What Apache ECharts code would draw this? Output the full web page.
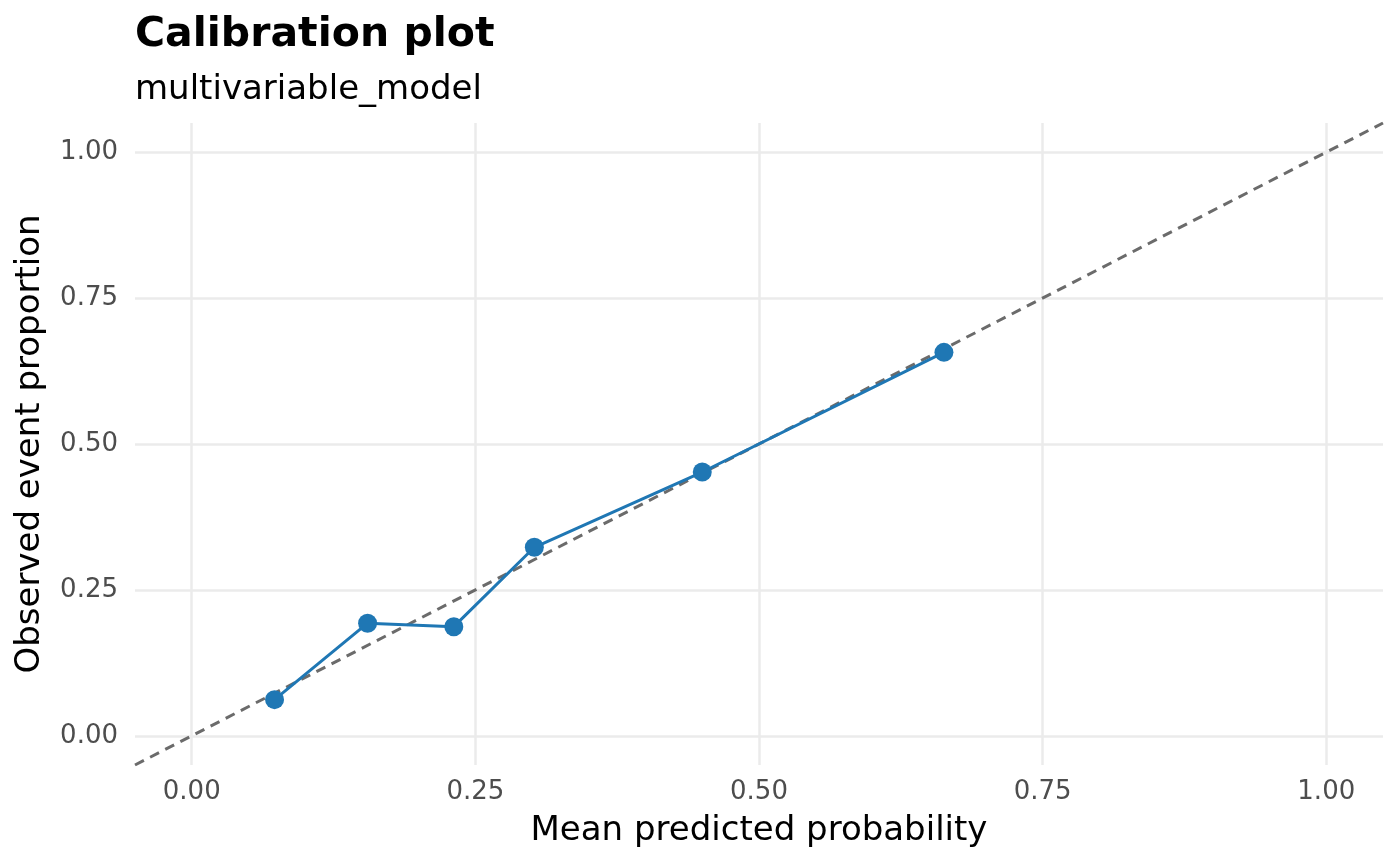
<!DOCTYPE html>
<html>
<head>
<meta charset="utf-8">
<script src="https://cdn.jsdelivr.net/npm/echarts@6/dist/echarts.min.js"></script>
<style>
html, body { margin: 0; padding: 0; background: #fff; }
#chart { width: 1400px; height: 865px; }
</style>
</head>
<body>
<div id="chart"></div>
<script>
// calibration bins: mean predicted vs observed
var predicted = [0.073, 0.155, 0.231, 0.302, 0.450, 0.663];
var observed = [0.062, 0.193, 0.187, 0.323, 0.452, 0.657];
// reference diagonal ends
var diagonal = [-0.05, 1.05];
var ticks = [0, 0.25, 0.5, 0.75, 1];

var pts = [];
for (var i = 0; i < predicted.length; i++) {
    pts.push([predicted[i], observed[i]]);
}
var diag = [];
for (var j = 0; j < diagonal.length; j++) {
    diag.push([diagonal[j], diagonal[j]]);
}

var font = 'DejaVu Sans';

function axisOpt(name, gap, margin) {
    return {
        type: 'value',
        min: -0.05,
        max: 1.05,
        name: name,
        nameLocation: 'middle',
        nameGap: gap,
        nameTextStyle: { fontFamily: font, fontSize: 34, color: '#000' },
        axisLine: { show: false },
        axisTick: { show: false, customValues: ticks },
        axisLabel: {
            customValues: ticks,
            fontFamily: font,
            fontSize: 26,
            color: '#4d4d4d',
            margin: margin,
            formatter: function (v) { return v.toFixed(2); }
        },
        splitLine: { show: true, lineStyle: { color: '#ebebeb', width: 2.5 } }
    };
}

var Chart = echarts.init(document.getElementById('chart'));
Chart.setOption({
    animation: false,
    backgroundColor: '#fff',
    title: {
        text: 'Calibration plot',
        subtext: 'multivariable_model',
        left: 130,
        top: 10,
        itemGap: 17,
        textStyle: { fontFamily: font, fontSize: 41, fontWeight: 'bold', color: '#000' },
        subtextStyle: { fontFamily: font, fontSize: 34, color: '#000' }
    },
    grid: { left: 135, right: 17, top: 123, bottom: 100 },
    xAxis: axisOpt('Mean predicted probability', 49, 14),
    yAxis: axisOpt('Observed event proportion', 88, 17),
    series: [
        {
            type: 'line',
            data: diag,
            symbol: 'none',
            lineStyle: { color: '#6b6b6b', width: 3, type: [10, 7] },
            z: 2
        },
        {
            type: 'line',
            data: pts,
            symbol: 'circle',
            symbolSize: 19,
            itemStyle: { color: '#1f77b4' },
            lineStyle: { color: '#1f77b4', width: 3 },
            z: 3
        }
    ]
});
</script>
</body>
</html>
